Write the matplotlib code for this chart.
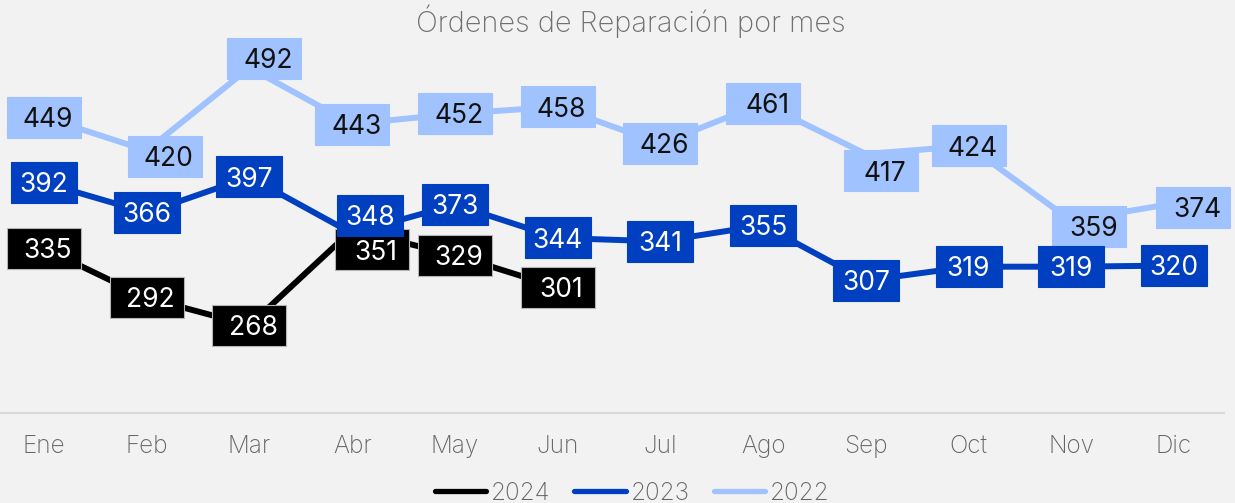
import matplotlib
matplotlib.use("Agg")
import matplotlib.pyplot as plt
from matplotlib.patches import Rectangle
from matplotlib.lines import Line2D
from matplotlib.transforms import ScaledTranslation

# Datos
meses = ["Ene", "Feb", "Mar", "Abr", "May", "Jun", "Jul", "Ago", "Sep", "Oct", "Nov", "Dic"]
ordenes_2024 = [335, 292, 268, 351, 329, 301]
ordenes_2023 = [392, 366, 397, 348, 373, 344, 341, 355, 307, 319, 319, 320]
ordenes_2022 = [449, 420, 492, 443, 452, 458, 426, 461, 417, 424, 359, 374]

# Desplazamiento de algunas etiquetas en pixeles (dx, dy hacia abajo)
desp_2024 = {3: (20, 20)}
desp_2023 = {3: (18, -18)}
desp_2022 = {1: (18, 6), 2: (15, -9), 8: (15, 17), 10: (18, 6), 11: (19, 4)}

FONDO = "#f2f2f2"
GRIS = "#666666"

plt.rcParams["font.family"] = ["Inter", "DejaVu Sans"]
plt.rcParams["font.weight"] = "light"

fig = plt.figure(figsize=(12.35, 5.03), dpi=100, facecolor=FONDO)
ax = fig.add_axes([0, 90 / 503, 1224 / 1235, 373 / 503])
ax.set_facecolor(FONDO)

# nombre, valores, color, color texto, ancho caja, desplazamientos, dx texto, borde, zorder
series = [
    ("2024", ordenes_2024, "#000000", "white", 74, desp_2024, 4, "#b5b5b5", 4),
    ("2023", ordenes_2023, "#0040c0", "white", 66, desp_2023, 0, None, 6),
    ("2022", ordenes_2022, "#a0c2ff", "#111111", 74, desp_2022, 4, None, 3),
]

for nombre, valores, color, color_txt, ancho, desp, txt_dx, borde, z in series:
    x = list(range(len(valores)))
    ax.plot(x, valores, color=color, lw=4.3, zorder=2, solid_capstyle="butt")
    for i, v in enumerate(valores):
        dx, dy = desp.get(i, (0, 0))
        tr = ScaledTranslation(i, v, ax.transData)
        ax.add_patch(Rectangle((dx - ancho / 2, -dy - 20.5), ancho, 41, transform=tr,
                               facecolor=color, edgecolor=borde if borde else color,
                               lw=0.8, zorder=z, clip_on=False))
        ax.text(dx + txt_dx, -dy - 9.7, f"{v}", transform=tr, ha="center", va="baseline",
                fontsize=19, fontweight="normal", color=color_txt, zorder=z + 0.1,
                clip_on=False)

ax.set_xlim(-44 / 102.73, 11 + 50 / 102.73)
ax.set_ylim(191.8, 516.1)
ax.set_xticks(range(len(meses)), meses)
ax.set_yticks([])
ax.tick_params(axis="x", length=0, pad=16, labelsize=17.5, labelcolor=GRIS)
for lado in ["top", "left", "right"]:
    ax.spines[lado].set_visible(False)
ax.spines["bottom"].set_color("#d9d9d9")
ax.spines["bottom"].set_linewidth(1.5)

fig.text(630.5 / 1235, 471 / 503, "Órdenes de Reparación por mes", ha="center", va="baseline",
         fontsize=20.8, color="#707070")

# Leyenda
handles = [Line2D([], [], color=s[2], lw=3.8, solid_capstyle="round") for s in series]
fig.legend(handles, [s[0] for s in series], loc="center", bbox_to_anchor=(632 / 1235, 10 / 503),
           ncol=3, frameon=False, fontsize=17.5, handlelength=2.1, handletextpad=0.2,
           columnspacing=1.0, labelcolor=GRIS, borderaxespad=0, borderpad=0)

fig.savefig("out.png", dpi=100, facecolor=FONDO)
